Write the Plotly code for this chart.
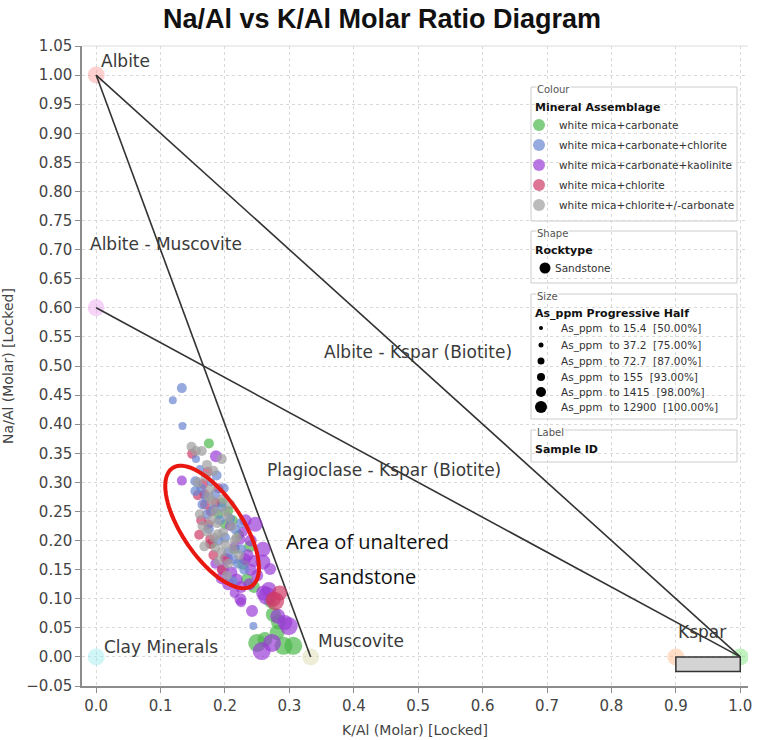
import numpy as np
import plotly.graph_objects as go

OFF = 0
W, H = 764, 740
ML, MR, MT, MB = 82, 16, 46, 54

# end-member compositions (K/Al, Na/Al)
em_x = [0.0, 0.0, 0.0, 0.333, 0.9, 1.0]
em_y = [1.0, 0.6, 0.0, 0.0, 0.0, 0.0]
em_colors = ['rgba(255,150,150,0.45)', 'rgba(235,160,240,0.45)', 'rgba(150,235,240,0.45)',
             'rgba(225,225,190,0.6)', 'rgba(255,190,140,0.5)', 'rgba(130,230,130,0.5)']

# tie lines
tie_x = [0.0, 0.333, None, 0.0, 1.0, None, 0.0, 1.0]
tie_y = [1.0, 0.0, None, 1.0, 0.0, None, 0.6, 0.0]

kspar_box_x = [0.9, 1.0]
kspar_box_y = [-0.025, 0.0]

minerals = ['white mica+carbonate', 'white mica+carbonate+chlorite', 'white mica+carbonate+kaolinite',
            'white mica+chlorite', 'white mica+chlorite+/-carbonate']
mineral_colors = ['#4cb84c', '#6a86d2', '#9a3dd6', '#cf3b68', '#9e9e9e']

# samples: x = K/Al, y = Na/Al, cls = As_ppm size class (0..5)
carb_x = [0.175, 0.195, 0.205, 0.200, 0.190, 0.222, 0.215, 0.239, 0.228, 0.234, 0.245, 0.270,
          0.275, 0.283, 0.281, 0.262, 0.250, 0.291, 0.306, 0.212, 0.180]
carb_y = [0.367, 0.265, 0.251, 0.228, 0.245, 0.210, 0.185, 0.190, 0.160, 0.133, 0.120, 0.095,
          0.073, 0.060, 0.042, 0.030, 0.024, 0.019, 0.019, 0.235, 0.195]
carb_cls = [1, 1, 1, 1, 1, 1, 1, 2, 2, 2, 2, 2, 3, 3, 3, 3, 4, 4, 4, 1, 1]

chl_carb_x = [0.133, 0.119, 0.134, 0.155, 0.161, 0.178, 0.154, 0.170, 0.154, 0.185, 0.165, 0.182,
              0.192, 0.208, 0.216, 0.200, 0.225, 0.205, 0.213, 0.230, 0.244, 0.172, 0.195, 0.190,
              0.220, 0.163, 0.175, 0.225, 0.212, 0.198, 0.187]
chl_carb_y = [0.462, 0.441, 0.397, 0.340, 0.323, 0.300, 0.302, 0.275, 0.285, 0.280, 0.262, 0.254,
              0.235, 0.237, 0.219, 0.205, 0.185, 0.180, 0.168, 0.150, 0.053, 0.245, 0.258, 0.200,
              0.160, 0.290, 0.220, 0.230, 0.130, 0.290, 0.312]
chl_carb_cls = [1, 0, 0, 0, 0, 0, 1, 1, 1, 1, 1, 1, 1, 1, 1, 1, 1, 1, 1, 1, 0, 1, 1, 1, 1, 1,
                1, 1, 1, 1, 1]

kaol_x = [0.133, 0.186, 0.208, 0.224, 0.215, 0.240, 0.247, 0.259, 0.185, 0.203, 0.231, 0.259,
          0.197, 0.210, 0.240, 0.270, 0.218, 0.195, 0.250, 0.260, 0.268, 0.265, 0.224, 0.225,
          0.242, 0.282, 0.293, 0.299, 0.273, 0.257, 0.228, 0.235, 0.205, 0.225, 0.232, 0.238,
          0.215, 0.245]
kaol_y = [0.303, 0.345, 0.225, 0.202, 0.190, 0.200, 0.228, 0.185, 0.160, 0.168, 0.168, 0.163,
          0.151, 0.145, 0.150, 0.151, 0.133, 0.135, 0.140, 0.110, 0.116, 0.105, 0.099, 0.094,
          0.079, 0.070, 0.059, 0.053, 0.024, 0.010, 0.215, 0.175, 0.125, 0.120, 0.235, 0.125,
          0.110, 0.165]
kaol_cls = [1, 2, 1, 1, 1, 2, 3, 3, 1, 2, 2, 3, 2, 2, 2, 2, 2, 2, 2, 3, 3, 4, 2, 1,
            2, 3, 3, 4, 4, 4, 1, 2, 2, 2, 2, 2, 1, 2]

chl_x = [0.149, 0.173, 0.166, 0.190, 0.158, 0.169, 0.163, 0.174, 0.160, 0.177, 0.177, 0.182,
         0.195, 0.285, 0.278, 0.275, 0.168, 0.185, 0.178, 0.200]
chl_y = [0.349, 0.318, 0.297, 0.290, 0.278, 0.262, 0.235, 0.228, 0.210, 0.202, 0.194, 0.175,
         0.150, 0.110, 0.096, 0.099, 0.280, 0.265, 0.250, 0.170]
chl_cls = [1, 1, 1, 1, 1, 1, 1, 1, 1, 1, 1, 1, 1, 3, 4, 3, 1, 1, 1, 1]

chl_pm_x = [0.148, 0.155, 0.164, 0.195, 0.182, 0.170, 0.177, 0.196, 0.180, 0.208, 0.200, 0.161,
            0.188, 0.210, 0.197, 0.172, 0.189, 0.215, 0.200, 0.168, 0.185, 0.222, 0.190, 0.205,
            0.158, 0.185, 0.205, 0.178, 0.195, 0.212, 0.175, 0.165, 0.183, 0.218, 0.203, 0.172]
chl_pm_y = [0.361, 0.354, 0.354, 0.340, 0.320, 0.310, 0.288, 0.271, 0.268, 0.262, 0.250, 0.245,
            0.230, 0.225, 0.214, 0.215, 0.211, 0.200, 0.194, 0.190, 0.188, 0.175, 0.165, 0.160,
            0.300, 0.250, 0.240, 0.235, 0.180, 0.185, 0.275, 0.225, 0.205, 0.205, 0.140, 0.330]
chl_pm_cls = [1] * len(chl_pm_x)

size_labels = ['As_ppm  to 15.4  [50.00%]', 'As_ppm  to 37.2  [75.00%]', 'As_ppm  to 72.7  [87.00%]',
               'As_ppm  to 155  [93.00%]', 'As_ppm  to 1415  [98.00%]', 'As_ppm  to 12900  [100.00%]']

# marker sizes for As_ppm classes (px)
cls_px = [8, 10, 12, 15, 18, 21]
legend_dot_px = [4, 5, 7, 8, 10, 12]

groups = [
    (0, carb_x, carb_y, carb_cls),
    (2, kaol_x, kaol_y, kaol_cls),
    (3, chl_x, chl_y, chl_cls),
    (1, chl_carb_x, chl_carb_y, chl_carb_cls),
    (4, chl_pm_x, chl_pm_y, chl_pm_cls),
]

fig = go.Figure()

fig.add_trace(go.Scatter(x=em_x, y=em_y, mode='markers', showlegend=False, hoverinfo='skip',
                         marker=dict(size=17, color=em_colors, line=dict(width=0))))

fig.add_trace(go.Scatter(x=tie_x, y=tie_y, mode='lines', showlegend=False, hoverinfo='skip',
                         line=dict(color='#333333', width=1.6)))

for i, gx, gy, gc in groups:
    fig.add_trace(go.Scatter(
        x=gx, y=gy, mode='markers',
        name=minerals[i],
        legendrank=i + 1,
        legendgroup=str(i),
        marker=dict(size=[cls_px[c] for c in gc], color=mineral_colors[i], line=dict(width=0))
    ))


# page pixel -> paper coords (plot area spans page x 82..748, y 46..686)
def paper_x(p):
    return (p - OFF - ML) / (W - ML - MR)


def paper_y(p):
    return (H - MB - (p - OFF)) / (H - MT - MB)


shapes = []

# Kspar field
shapes.append(dict(type='rect', xref='x', yref='y', x0=kspar_box_x[0], x1=kspar_box_x[1],
                   y0=kspar_box_y[0], y1=kspar_box_y[1], fillcolor='#d4d4d4',
                   line=dict(color='#333333', width=1.5)))

# red ellipse around the unaltered sandstone
px_x = (W - ML - MR) / (1.012 + 0.022)
px_y = (H - MT - MB) / 1.10
cx, cy = 0.180, 0.2233
a, b, th = 71, 30, np.radians(56)
t = np.linspace(0, 2 * np.pi, 90)
ex = (a * np.cos(t) * np.cos(th) - b * np.sin(t) * np.sin(th)) / px_x + cx
ey = cy - (a * np.cos(t) * np.sin(th) + b * np.sin(t) * np.cos(th)) / px_y
path = 'M ' + ' L '.join(f'{xx:.4f},{yy:.4f}' for xx, yy in zip(ex, ey)) + ' Z'
shapes.append(dict(type='path', xref='x', yref='y', path=path, line=dict(color='#e8170f', width=4)))

# top border
shapes.append(dict(type='line', xref='paper', yref='paper', x0=0, x1=1, y0=1, y1=1,
                   line=dict(color='#dddddd', width=1)))

# legend panel boxes
for top, bot in [(87, 221), (231, 283), (294, 419), (430, 462)]:
    shapes.append(dict(type='rect', xref='paper', yref='paper', x0=paper_x(531), x1=paper_x(737),
                       y0=paper_y(bot), y1=paper_y(top), fillcolor='white',
                       line=dict(color='#cccccc', width=1), layer='below'))

# shape legend dot
shapes.append(dict(type='circle', xref='paper', yref='paper', xsizemode='pixel', ysizemode='pixel',
                   xanchor=paper_x(545), yanchor=paper_y(268), x0=-5.5, x1=5.5, y0=-5.5, y1=5.5,
                   fillcolor='black', line=dict(width=0)))

# size legend dots
size_rows = [328, 345, 361, 377, 392, 407]
for d, ry in zip(legend_dot_px, size_rows):
    shapes.append(dict(type='circle', xref='paper', yref='paper', xsizemode='pixel', ysizemode='pixel',
                       xanchor=paper_x(541), yanchor=paper_y(ry), x0=-d / 2, x1=d / 2, y0=-d / 2, y1=d / 2,
                       fillcolor='black', line=dict(width=0)))

annotations = []
lab_font = dict(family='DejaVu Sans', size=17, color='#3a3a3a')
for text, x, y in [('Albite', 0.005, 1.024), ('Albite - Muscovite', -0.012, 0.710),
                   ('Albite - Kspar (Biotite)', 0.351, 0.524),
                   ('Plagioclase - Kspar (Biotite)', 0.262, 0.321),
                   ('Clay Minerals', 0.009, 0.017), ('Muscovite', 0.342, 0.027), ('Kspar', 0.900, 0.043)]:
    annotations.append(dict(text=text, x=x, y=y, xref='x', yref='y', xanchor='left', yanchor='middle',
                            showarrow=False, font=lab_font))

for text, y in [('Area of unaltered', 0.199), ('sandstone', 0.139)]:
    annotations.append(dict(text=text, x=0.421, y=y, xref='x', yref='y', xanchor='center', yanchor='middle',
                            showarrow=False, font=dict(family='Open Sans', size=20, color='#111111')))

# legend panel headers
small = dict(family='DejaVu Sans', size=10, color='#555555')
bold = dict(family='DejaVu Sans', size=11, color='#111111')
for text, y in [('Colour', 90), ('Shape', 233), ('Size', 296), ('Label', 432)]:
    annotations.append(dict(text=text, x=paper_x(536), y=paper_y(y), xref='paper', yref='paper',
                            xanchor='left', yanchor='middle', showarrow=False, font=small,
                            bgcolor='white', borderpad=0))
for text, y in [('Mineral Assemblage', 107), ('Rocktype', 250), ('As_ppm Progressive Half', 313),
                ('Sample ID', 449)]:
    annotations.append(dict(text='<b>' + text + '</b>', x=paper_x(533), y=paper_y(y), xref='paper',
                            yref='paper', xanchor='left', yanchor='middle', showarrow=False, font=bold))
annotations.append(dict(text='Sandstone', x=paper_x(553), y=paper_y(268), xref='paper', yref='paper',
                        xanchor='left', yanchor='middle', showarrow=False,
                        font=dict(family='DejaVu Sans', size=10.5, color='#333333')))
for text, ry in zip(size_labels, size_rows):
    annotations.append(dict(text=text, x=paper_x(559), y=paper_y(ry), xref='paper', yref='paper',
                            xanchor='left', yanchor='middle', showarrow=False,
                            font=dict(family='DejaVu Sans', size=10.5, color='#333333')))

axis_common = dict(showline=True, linecolor='#8c8c8c', linewidth=1.5, ticks='outside', ticklen=5,
                   tickcolor='#8c8c8c', showgrid=True, gridcolor='#d9d9d9', griddash='3px,3px',
                   zeroline=False, automargin=False,
                   tickfont=dict(family='DejaVu Sans', size=15, color='#444444'))

fig.update_xaxes(range=[-0.022, 1.012], dtick=0.1, tick0=0, tickformat='.1f',
                 title=dict(text='K/Al (Molar) [Locked]', standoff=11,
                            font=dict(family='DejaVu Sans', size=14, color='#444444')),
                 **axis_common)
fig.update_yaxes(range=[-0.05, 1.05], dtick=0.05, tick0=0, tickformat='.2f',
                 title=dict(text='Na/Al (Molar) [Locked]', standoff=12,
                            font=dict(family='DejaVu Sans', size=14, color='#444444')),
                 **axis_common)

fig.update_layout(
    width=W, height=H,
    margin=dict(l=ML, r=MR, t=MT, b=MB),
    paper_bgcolor='white', plot_bgcolor='white',
    title=dict(text='<b>Na/Al vs K/Al Molar Ratio Diagram</b>', x=0.5, xanchor='center',
               y=1 - 19 / H, yanchor='middle', yref='container',
               font=dict(family='Liberation Sans, Arial', size=27, color='#111111')),
    legend=dict(x=paper_x(519), y=paper_y(110.5), xanchor='left', yanchor='top',
                bgcolor='rgba(0,0,0,0)', borderwidth=0, itemsizing='constant',
                traceorder='grouped', tracegroupgap=1,
                font=dict(family='DejaVu Sans', size=10.5, color='#333333')),
    shapes=shapes,
    annotations=annotations,
)

# drop the default body margin so the figure fills the window exactly
fig.write_html("out.html", config={'displayModeBar': False},
               post_script="document.body.style.margin='0px';")
